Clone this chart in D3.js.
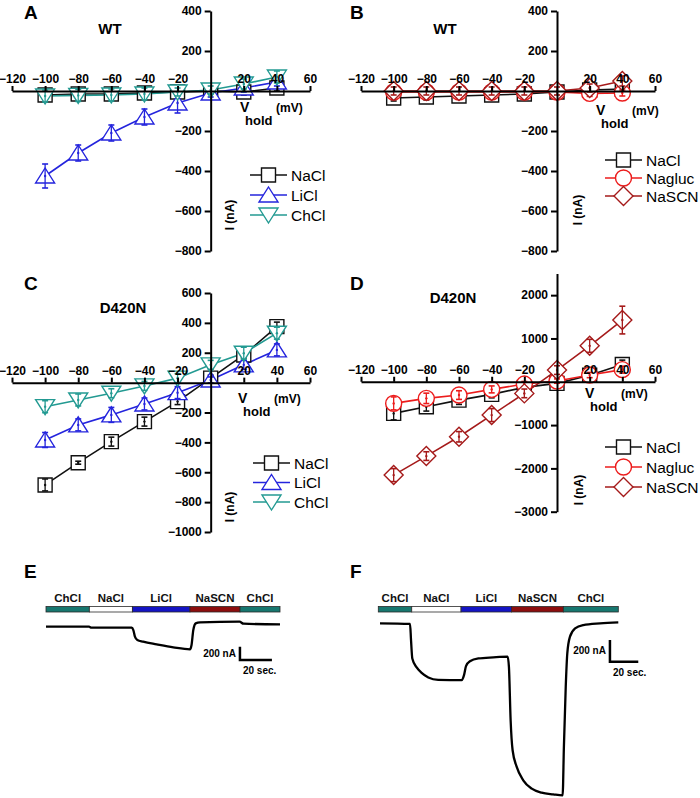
<!DOCTYPE html>
<html><head><meta charset="utf-8">
<script src="https://cdn.jsdelivr.net/npm/d3@7"></script>
<style>body{margin:0;background:#fff} svg{display:block} text{font-family:"Liberation Sans",Arial,sans-serif}</style>
</head><body><svg id="c" width="700" height="798"></svg>
<script>
// ---------- data ----------
const volts = [-100,-80,-60,-40,-20,0,20,40];
const xTickVals = [-120,-100,-80,-60,-40,-20,20,40,60];
const yTicksAB = [400,200,-200,-400,-600,-800];
const yTicksC = [600,400,200,-200,-400,-600,-800,-1000];
const yTicksD = [2000,1000,-1000,-2000,-3000];

// Panel A (WT)
const A_NaCl = [-20,-15,-15,-10,-5,0,-5,15];
const A_NaCl_err = [15,15,15,15,15,10,15,15];
const A_LiCl = [-425,-310,-210,-130,-60,-10,15,45];
const A_LiCl_err = [60,40,40,40,50,20,20,20];
const A_ChCl = [-25,-22,-20,-15,-5,5,35,70];
const A_ChCl_err = [30,30,30,30,20,20,25,30];
// Panel B (WT)
const B_NaCl = [-35,-30,-25,-20,-15,-5,5,10];
const B_NaCl_err = [15,15,15,15,15,10,15,15];
const B_Nagluc = [-5,-5,-5,-5,-5,-5,-12,-10];
const B_Nagluc_err = [15,15,15,15,15,15,15,15];
const B_NaSCN = [0,0,0,0,0,0,15,50];
const B_NaSCN_err = [20,20,20,20,20,20,20,25];
// Panel C (D420N)
const C_NaCl = [-685,-536,-395,-261,-127,30,185,375];
const C_NaCl_err = [40,10,30,30,20,20,20,30];
const C_LiCl = [-384,-283,-216,-143,-67,18,119,219];
const C_LiCl_err = [50,40,50,40,40,20,30,40];
const C_ChCl = [-161,-116,-71,-22,30,119,197,331];
const C_ChCl_err = [40,40,30,30,30,30,40,40];
// Panel D (D420N)
const D_NaCl = [-730,-577,-423,-291,-129,-37,150,400];
const D_NaCl_err = [150,100,100,80,60,50,80,100];
const D_Nagluc = [-499,-383,-307,-176,-53,16,155,280];
const D_Nagluc_err = [150,120,100,80,60,50,60,80];
const D_NaSCN = [-2155,-1716,-1270,-769,-268,270,830,1425];
const D_NaSCN_err = [150,100,120,150,100,100,150,320];

// Panels E, F: solution sequence and current traces
const solNames = ["ChCl","NaCl","LiCl","NaSCN","ChCl"];
const E_bounds = [0,27.1,54,90,121.3,146.3];
const E_t = [0,26.9,28.4,53.6,54.6,55.6,57.1,60.8,69.2,79.6,90,91,92.1,93.6,96.3,121,123.5,146.3];
const E_I = [0,0,-15,-15,-50,-150,-200,-225,-265,-310,-340,-275,-50,50,65,75,45,35];
const F_bounds = [0,23.6,58.4,94.1,130.6,169.4];
const F_t = [1.2,22.4,23.1,24,27.1,30.6,35.3,42.3,58.9,60.5,61.9,64.7,70.6,81.2,91.3,92.2,93.4,94.8,97.7,102.3,108.3,115.3,123.5,130.1,131,132.3,133.4,135.3,138.9,144.7,156.5,169.4];
const F_I = [0,-6,-155,-324,-407,-457,-499,-521,-524,-478,-395,-349,-324,-314,-308,-401,-893,-1170,-1324,-1447,-1524,-1561,-1577,-1586,-1139,-585,-277,-123,-46,-16,0,9];

// ---------- styles ----------
const col = {NaCl:"#111111", LiCl:"#2424dd", ChCl:"#239a92", Nagluc:"#ec1c1c", NaSCN:"#a51a1a"};
const barCol = {ChCl:"#17776f", NaCl:"#ffffff", LiCl:"#1414c4", NaSCN:"#8c0e0e"};
const svg = d3.select("#c");

function shape(type){
  switch(type){
    case "square": return "M-7,-7H7V7H-7Z";
    case "up": return "M0,-8L9.5,7L-9.5,7Z";
    case "down": return "M0,8L9.5,-7L-9.5,-7Z";
    case "circle": return "M8,0A8,8 0 1,1 -8,0A8,8 0 1,1 8,0Z";
    case "diamond": return "M0,-9.5L9.5,0L0,9.5L-9.5,0Z";
  }
}

function ivPanel(cfg){
  const x = d3.scaleLinear().domain([-120,60]).range(cfg.xr);
  const y = d3.scaleLinear().domain(cfg.yd).range(cfg.yr);
  const g = svg.append("g");
  // series
  cfg.series.forEach(s=>{
    const line = d3.line().x((d,i)=>x(volts[i])).y(d=>y(d));
    g.append("path").attr("d", line(s.v)).attr("fill","none").attr("stroke",s.color).attr("stroke-width",1.6);
  });
  cfg.series.forEach(s=>{
    const sg = g.append("g");
    s.v.forEach((d,i)=>{
      sg.append("path").attr("d",shape(s.shape)).attr("transform",`translate(${x(volts[i])},${y(d)})`)
        .attr("fill","#fff").attr("stroke",s.color).attr("stroke-width",1.4);
    });
    s.v.forEach((d,i)=>{
      const cx = x(volts[i]), e = s.e[i];
      const y1 = y(d+e), y2 = y(d-e);
      sg.append("line").attr("x1",cx).attr("x2",cx).attr("y1",y1).attr("y2",y2).attr("stroke",s.color).attr("stroke-width",1.3);
      [y1,y2].forEach(yy=>sg.append("line").attr("x1",cx-3).attr("x2",cx+3).attr("y1",yy).attr("y2",yy).attr("stroke",s.color).attr("stroke-width",1.6));
      sg.append("circle").attr("cx",cx).attr("cy",y(d)).attr("r",1.2).attr("fill",s.color);
    });
  });
  // axes
  const ya = g.append("g").attr("transform",`translate(${x(0)},0)`)
    .call(d3.axisLeft(y).tickValues(cfg.yTicks).tickSize(6).tickSizeOuter(0).tickPadding(3).tickFormat(d3.format("d")));
  const xa = g.append("g").attr("transform",`translate(0,${y(0)})`)
    .call(d3.axisTop(x).tickValues(xTickVals).tickSize(5).tickSizeOuter(0).tickPadding(3).tickFormat(d3.format("d")));
  [ya,xa].forEach(a=>{
    a.select(".domain").attr("stroke","#000").attr("stroke-width",2);
    a.selectAll(".tick line").attr("stroke","#000").attr("stroke-width",2);
    a.selectAll(".tick text").attr("fill","#000").style("font-size","12px").style("font-weight","bold").style("font-family","'Liberation Sans',Arial,sans-serif");
  });
  // labels
  g.append("text").attr("x",cfg.letter[0]).attr("y",cfg.letter[1]).text(cfg.L).style("font-size","19px").style("font-weight","bold");
  g.append("text").attr("x",cfg.title[0]).attr("y",cfg.title[1]).attr("text-anchor","middle").text(cfg.T).style("font-size","15px").style("font-weight","bold");
  const vx = cfg.vlab[0], vy = cfg.vlab[1];
  g.append("text").attr("x",vx).attr("y",vy).text("V").style("font-size","14px").style("font-weight","bold");
  g.append("text").attr("x",vx+5).attr("y",vy+13).text("hold").style("font-size","13px").style("font-weight","bold");
  g.append("text").attr("x",vx+36).attr("y",vy).text("(mV)").style("font-size","12px").style("font-weight","bold");
  g.append("text").attr("transform",`translate(${cfg.ilab[0]},${cfg.ilab[1]}) rotate(-90)`).attr("text-anchor","middle").text("I (nA)").style("font-size","12px").style("font-weight","bold");
  // legend
  cfg.series.forEach((s,i)=>{
    const ly = cfg.leg[1] + i*cfg.leg[2], lx = cfg.leg[0];
    g.append("line").attr("x1",lx).attr("x2",lx+37).attr("y1",ly).attr("y2",ly).attr("stroke",s.color).attr("stroke-width",1.6);
    g.append("path").attr("d",shape(s.shape)).attr("transform",`translate(${lx+18.5},${ly})`).attr("fill","#fff").attr("stroke",s.color).attr("stroke-width",1.4);
    g.append("text").attr("x",lx+41).attr("y",ly+5.5).text(s.name).style("font-size","15.5px");
  });
}

ivPanel({L:"A",T:"WT",xr:[12,310],yd:[-800,400],yr:[251,11],yTicks:yTicksAB,letter:[24,19],title:[110,34],vlab:[240,112],ilab:[234,215],leg:[250,175,20],
  series:[{name:"NaCl",v:A_NaCl,e:A_NaCl_err,color:col.NaCl,shape:"square"},
          {name:"LiCl",v:A_LiCl,e:A_LiCl_err,color:col.LiCl,shape:"up"},
          {name:"ChCl",v:A_ChCl,e:A_ChCl_err,color:col.ChCl,shape:"down"}]});
ivPanel({L:"B",T:"WT",xr:[361,655],yd:[-800,400],yr:[251,11],yTicks:yTicksAB,letter:[350,19],title:[445,34],vlab:[596,115],ilab:[582,210],leg:[605,160,18],
  series:[{name:"NaCl",v:B_NaCl,e:B_NaCl_err,color:col.NaCl,shape:"square"},
          {name:"Nagluc",v:B_Nagluc,e:B_Nagluc_err,color:col.Nagluc,shape:"circle"},
          {name:"NaSCN",v:B_NaSCN,e:B_NaSCN_err,color:col.NaSCN,shape:"diamond"}]});
ivPanel({L:"C",T:"D420N",xr:[12,310],yd:[-1000,600],yr:[532,293],yTicks:yTicksC,letter:[24,290],title:[123,313],vlab:[238,403],ilab:[234,507],leg:[253,463,19.5],
  series:[{name:"NaCl",v:C_NaCl,e:C_NaCl_err,color:col.NaCl,shape:"square"},
          {name:"LiCl",v:C_LiCl,e:C_LiCl_err,color:col.LiCl,shape:"up"},
          {name:"ChCl",v:C_ChCl,e:C_ChCl_err,color:col.ChCl,shape:"down"}]});
ivPanel({L:"D",T:"D420N",xr:[361,655],yd:[-3000,2500],yr:[511.7,273.5],yTicks:yTicksD,letter:[350,290],title:[453,303],vlab:[585,398],ilab:[583,490],leg:[605,447,20],
  series:[{name:"NaCl",v:D_NaCl,e:D_NaCl_err,color:col.NaCl,shape:"square"},
          {name:"Nagluc",v:D_Nagluc,e:D_Nagluc_err,color:col.Nagluc,shape:"circle"},
          {name:"NaSCN",v:D_NaSCN,e:D_NaSCN_err,color:col.NaSCN,shape:"diamond"}]});

function tracePanel(cfg){
  const x = d3.scaleLinear().domain([0,cfg.bounds[cfg.bounds.length-1]]).range(cfg.xr);
  const y = d3.scaleLinear().domain([0,-200]).range([cfg.y0, cfg.y0+cfg.px200]);
  const g = svg.append("g");
  g.append("text").attr("x",cfg.letter[0]).attr("y",cfg.letter[1]).text(cfg.L).style("font-size","19px").style("font-weight","bold");
  solNames.forEach((n,i)=>{
    const x0 = x(cfg.bounds[i]), x1 = x(cfg.bounds[i+1]);
    g.append("rect").attr("x",x0).attr("y",606.5).attr("width",x1-x0).attr("height",5.5)
      .attr("fill",barCol[n]).attr("stroke","#2a2a2a").attr("stroke-width",0.8);
    g.append("text").attr("x",(x0+x1)/2).attr("y",602).attr("text-anchor","middle").text(n)
      .style("font-size","11.5px").style("font-weight","bold").attr("fill","#111");
  });
  const line = d3.line().x((d,i)=>x(cfg.t[i])).y(d=>y(d)).curve(d3.curveMonotoneX);
  g.append("path").attr("d",line(cfg.I)).attr("fill","none").attr("stroke","#000").attr("stroke-width",2.3);
  // scale bar
  const sx = x(cfg.sb[0]), sy0 = y(cfg.sb[1]), sy1 = y(cfg.sb[1]+200), sx1 = x(cfg.sb[0]+20);
  g.append("path").attr("d",`M${sx},${sy1}V${sy0}H${sx1}`).attr("fill","none").attr("stroke","#000").attr("stroke-width",2.5);
  g.append("text").attr("x",sx-4).attr("y",(sy0+sy1)/2+3.5).attr("text-anchor","end").text("200 nA").style("font-size","10px").style("font-weight","bold");
  g.append("text").attr("x",sx+3).attr("y",sy0+14).text("20 sec.").style("font-size","10px").style("font-weight","bold");
}

tracePanel({L:"E",letter:[24,578],bounds:E_bounds,t:E_t,I:E_I,xr:[46,280],y0:626.7,px200:13.3,sb:[121.25,-500]});
tracePanel({L:"F",letter:[350,578],bounds:F_bounds,t:F_t,I:F_I,xr:[378.3,618.3],y0:623.3,px200:21.7,sb:[163.5,-354]});
</script></body></html>
